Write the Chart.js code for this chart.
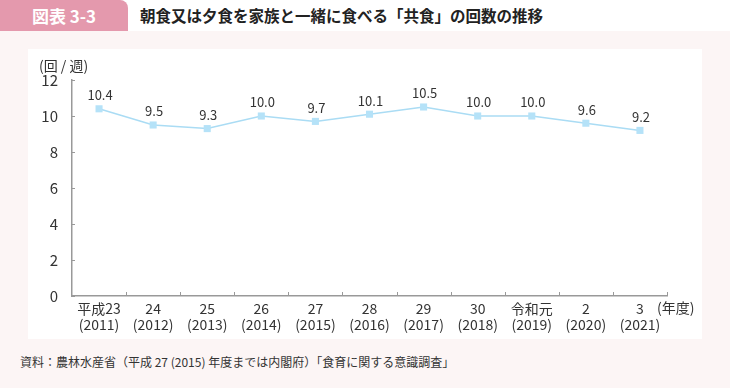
<!DOCTYPE html>
<html>
<head>
<meta charset="utf-8">
<script src="https://cdn.jsdelivr.net/npm/chart.js@4"></script>
<style>
  body { margin: 0; width: 730px; height: 388px; background: #fff; position: relative; overflow: hidden;
         font-family: "Noto Sans CJK JP", "Noto Sans", sans-serif; }
  #band { position: absolute; left: 0; top: 31px; width: 730px; height: 357px; background: #fcf5f5; }
  #tab { position: absolute; left: 0; top: 0; width: 128px; height: 31px; background: #e499ad;
         border-top-right-radius: 8px; color: #fff; font-weight: bold; font-size: 17px;
         line-height: 31px; text-align: center; }
  #title { position: absolute; left: 140px; top: 0; height: 31px; line-height: 31px; font-size: 15.5px;
           font-weight: bold; color: #222; }
  #panel { position: absolute; left: 28px; top: 49px; width: 674px; height: 290px; background: #fff; }
  #source { position: absolute; left: 20px; top: 353px; font-size: 12px; color: #333; }
</style>
</head>
<body>
<div id="band"></div>
<div id="tab">図表 3-3</div>
<div id="title">朝食又は夕食を家族と一緒に食べる「共食」の回数の推移</div>
<div id="panel"><canvas id="chart" width="674" height="290"></canvas></div>
<div id="source">資料：農林水産省（平成 27 (2015) 年度までは内閣府）「食育に関する意識調査」</div>
<script>
// 年度ラベル（和暦 / 西暦）
const eraLabels = ['平成23', '24', '25', '26', '27', '28', '29', '30', '令和元', '2', '3'];
const yearLabels = ['(2011)', '(2012)', '(2013)', '(2014)', '(2015)', '(2016)', '(2017)', '(2018)', '(2019)', '(2020)', '(2021)'];
// 共食の回数（回/週）
const kyoshoku = [10.4, 9.5, 9.3, 10.0, 9.7, 10.1, 10.5, 10.0, 10.0, 9.6, 9.2];
const yTicks = [0, 2, 4, 6, 8, 10, 12];

const font = '"Noto Sans CJK JP", "Noto Sans", sans-serif';

// 内向きの目盛り、数値ラベル、単位を描く
const extras = {
    id: 'extras',
    afterDatasetsDraw(chart) {
        const c = chart.ctx;
        const x = chart.scales.x, y = chart.scales.y;
        const area = chart.chartArea;
        c.save();
        c.strokeStyle = '#999';
        c.lineWidth = 1;
        y.ticks.forEach(t => {
            const py = Math.round(y.getPixelForValue(t.value)) + 0.5;
            c.beginPath(); c.moveTo(area.left, py); c.lineTo(area.left + 3, py); c.stroke();
        });
        for (let i = 1; i <= eraLabels.length; i++) {
            const px = Math.round(x.getPixelForValue(i - 0.5)) + 0.5;
            c.beginPath(); c.moveTo(px, area.bottom); c.lineTo(px, area.bottom - 4); c.stroke();
        }
        c.fillStyle = '#333';
        c.font = '13px ' + font;
        c.textAlign = 'center';
        c.textBaseline = 'bottom';
        chart.getDatasetMeta(0).data.forEach((p, i) => {
            c.fillText(kyoshoku[i].toFixed(1), p.x + 1, p.y - 7);
        });
        c.textAlign = 'left';
        c.textBaseline = 'middle';
        c.font = '14px ' + font;
        c.fillText('(年度)', area.right - 10, area.bottom + 12);
        c.fillText('(回 / 週)', 11, 17);
        c.restore();
    }
};

new Chart(document.getElementById('chart'), {
    type: 'line',
    data: {
        labels: eraLabels.map((e, i) => [e, yearLabels[i]]),
        datasets: [{
            data: kyoshoku,
            borderColor: '#aadcf4',
            borderWidth: 1.5,
            backgroundColor: '#b5e2f8',
            pointStyle: 'rect',
            pointRadius: 5,
            pointBorderWidth: 0,
            tension: 0
        }]
    },
    options: {
        responsive: false,
        animation: false,
        layout: { padding: { left: 0, top: 31, right: 35, bottom: 0 } },
        plugins: { legend: { display: false }, tooltip: { enabled: false } },
        scales: {
            x: {
                offset: true,
                grid: { display: false },
                border: { color: '#999', width: 1.5 },
                ticks: { color: '#333', font: { family: font, size: 14, lineHeight: 1.15 }, padding: -3, maxRotation: 0 },
                afterFit: s => { s.height = 43; }
            },
            y: {
                min: 0, max: 12,
                afterBuildTicks: s => { s.ticks = yTicks.map(v => ({ value: v })); },
                grid: { display: false },
                border: { color: '#999', width: 1.5 },
                ticks: { color: '#333', font: { family: font, size: 15 }, padding: 6 },
                afterFit: s => { s.width = 44; }
            }
        }
    },
    plugins: [extras]
});
</script>
</body>
</html>
